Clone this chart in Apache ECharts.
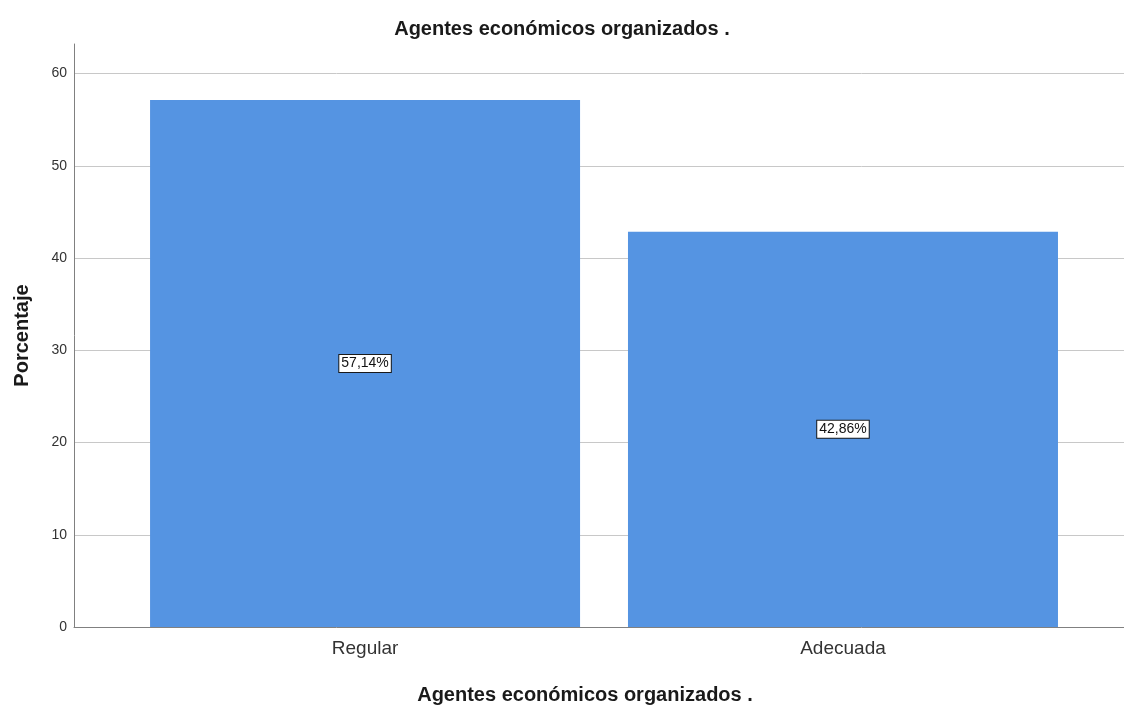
<!DOCTYPE html>
<html>
<head>
<meta charset="utf-8">
<script src="https://cdn.jsdelivr.net/npm/echarts@6/dist/echarts.min.js"></script>
<style>
  html, body { margin: 0; padding: 0; background: #fff; }
  #main { width: 1124px; height: 710px; }
</style>
</head>
<body>
<div id="main"></div>
<script>
// datos
var categorias = ['Regular', 'Adecuada'];
var porcentajes = [57.14, 42.86];
var etiquetas = ['57,14%', '42,86%'];
var yTicks = [0, 10, 20, 30, 40, 50, 60];

var myChart = echarts.init(document.getElementById('main'));

var puntos = porcentajes.map(function (v, i) { return [i, v]; });

var option = {
    backgroundColor: '#ffffff',
    title: {
        text: 'Agentes económicos organizados .',
        left: 'center',
        top: 14,
        textStyle: { color: '#1a1a1a', fontSize: 20, fontWeight: 'bold', fontFamily: 'Liberation Sans' }
    },
    grid: { left: 74, right: 0, top: 44, bottom: 83 },
    xAxis: {
        type: 'value',
        min: -0.609,
        max: 1.588,
        name: 'Agentes económicos organizados .',
        nameLocation: 'middle',
        nameGap: 58,
        nameTextStyle: { color: '#1a1a1a', fontSize: 20, fontWeight: 'bold', fontFamily: 'Liberation Sans', padding: [0, 28, 0, 0] },
        splitLine: { show: false },
        axisLine: { show: true, onZero: false, lineStyle: { color: '#808080', width: 1 } },
        axisTick: { show: false },
        axisLabel: {
            customValues: [0, 1],
            formatter: function (v) { return categorias[Math.round(v)]; },
            color: '#333', fontSize: 19, fontFamily: 'Liberation Sans', margin: 12
        }
    },
    yAxis: {
        type: 'value',
        min: 0,
        max: 63.2,
        interval: 10,
        name: 'Porcentaje',
        nameLocation: 'middle',
        nameGap: 42,
        nameTextStyle: { color: '#1a1a1a', fontSize: 20, fontWeight: 'bold', fontFamily: 'Liberation Sans' },
        axisLine: { show: true, onZero: false, lineStyle: { color: '#808080', width: 1 } },
        axisTick: { show: false },
        splitLine: { show: true, showMinLine: false, showMaxLine: false, lineStyle: { color: '#c8c8c8', width: 1 } },
        axisLabel: {
            customValues: yTicks,
            color: '#333', fontSize: 14, fontFamily: 'Liberation Sans', margin: 7
        }
    },
    series: [{
        type: 'bar',
        data: puntos,
        barWidth: 430,
        itemStyle: { color: '#5594e2' },
        label: {
            show: true,
            position: 'inside',
            formatter: function (p) { return etiquetas[p.dataIndex]; },
            color: '#111',
            fontSize: 14,
            fontFamily: 'Liberation Sans',
            backgroundColor: '#fff',
            borderColor: '#1a1a1a',
            borderWidth: 1,
            padding: [2, 2, 1, 2]
        }
    }]
};

myChart.setOption(option);
</script>
</body>
</html>
